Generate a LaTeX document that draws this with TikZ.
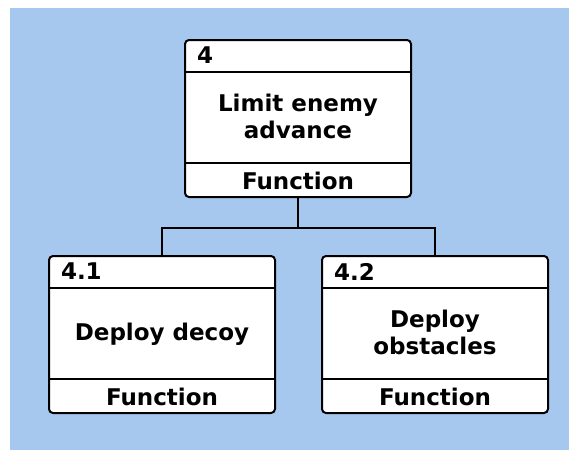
\documentclass[tikz,border=0pt]{standalone}
\usepackage{fontspec}
\setmainfont{DejaVu Sans}
\usetikzlibrary{positioning, calc}

\definecolor{diagblue}{RGB}{167,200,238}

\begin{document}
\begin{tikzpicture}[
        x = 1pt, y = -1pt, % one unit per pixel, y going down
        font = \fontsize{23}{27}\selectfont\bfseries,
        line width = 2pt
    ]

    \tikzstyle{func box}=[
        draw = black,
        line width = 2pt,
        fill = white,
        rounded corners = 4pt,
        minimum width = 226pt,
        minimum height = 157pt,
        inner sep = 0pt
    ]
    \tikzstyle{func id}=[anchor = west, inner sep = 0pt]
    \tikzstyle{func name}=[align = center, inner sep = 0pt, text depth = 0pt]

    \useasboundingbox (0,0) rectangle (569,450);
    \fill[diagblue] (10,8) rectangle (569,450);

    \node[func box] (lim) at (298,118.5) {};
    \node[func box] (decoy) at (162,334.5) {};
    \node[func box] (obst) at (435,334.5) {};

    % header and footer of each box
    \foreach \b in {lim, decoy, obst} {
        \draw ($(\b.north west)+(0,33)$) -- ($(\b.north east)+(0,33)$);
        \draw ($(\b.south west)+(0,-35)$) -- ($(\b.south east)+(0,-35)$);
        \node[func name] (\b-kind) at ($(\b.south)+(0,-17.5)$) {Function};
    }

    \node[func id] (lim-id) at ($(lim.north west)+(12,16.5)$) {4};
    \node[func id] (decoy-id) at ($(decoy.north west)+(12,16.5)$) {4.1};
    \node[func id] (obst-id) at ($(obst.north west)+(12,16.5)$) {4.2};

    \node[func name] (lim-name) at ($(lim.north)+(0,77)$) {Limit enemy\\advance};
    \node[func name] (decoy-name) at ($(decoy.north)+(0,77)$) {Deploy decoy};
    \node[func name] (obst-name) at ($(obst.north)+(0,77)$) {Deploy\\obstacles};

    % tree lines
    \coordinate (fork) at ($(lim.south)+(0,30)$);
    \draw (lim.south) -- (fork);
    \draw (fork) -| (decoy.north);
    \draw (fork) -| (obst.north);

\end{tikzpicture}
\end{document}
